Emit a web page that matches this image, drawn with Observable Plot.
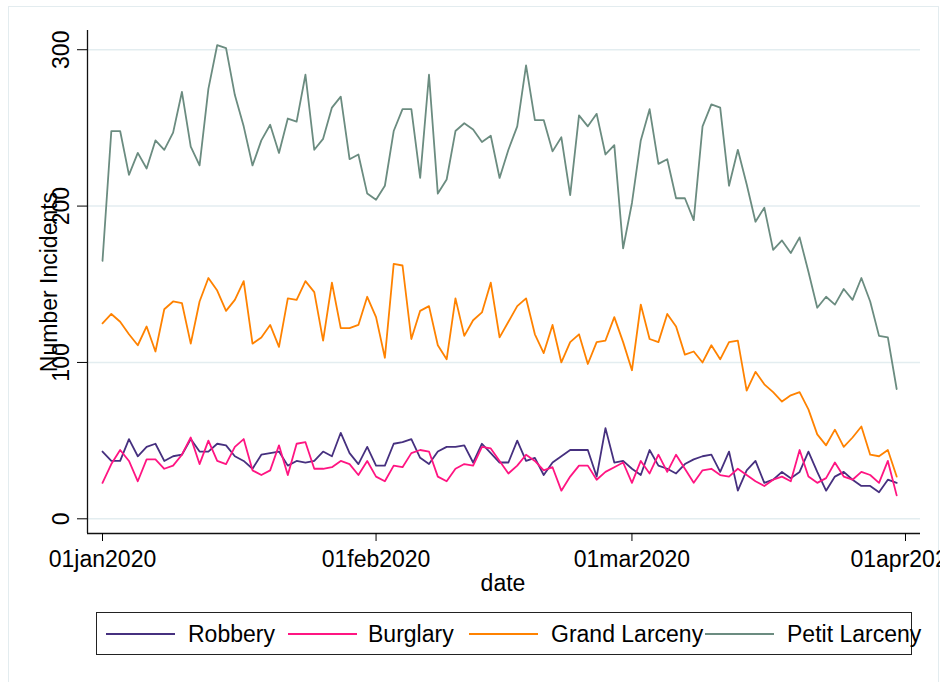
<!DOCTYPE html>
<html>
<head>
<meta charset="utf-8">
<script src="https://cdn.jsdelivr.net/npm/d3@7"></script>
<script src="https://cdn.jsdelivr.net/npm/@observablehq/plot@0.6"></script>
<style>
  html, body { margin: 0; padding: 0; background: #fff; }
  #wrap { position: relative; width: 949px; height: 682px; overflow: hidden; background: #fff;
          font-family: "Liberation Sans", Arial, Helvetica, sans-serif; color: #000; }
  #frame { position: absolute; left: 8px; top: 6px; width: 931px; height: 700px; border: 1px solid #e3ecef; box-sizing: border-box; }
  #chart { position: absolute; left: 0; top: 0; width: 940px; height: 600px; overflow: hidden; }
  .lbl { position: absolute; font-size: 23px; line-height: 26px; white-space: nowrap; }
  #legend { position: absolute; left: 96px; top: 612px; width: 816px; height: 43px; border: 1px solid #222; box-sizing: border-box; }
  .swatch { position: absolute; height: 2px; width: 69px; }
</style>
</head>
<body>
<div id="wrap">
  <div id="frame"></div>
  <div id="chart"></div>
  <div id="legend"></div>
  <div class="lbl" id="xtitle"></div>
  <div class="lbl" id="ytitle"></div>
</div>
<script>
// ---- data ----
const seriesNames = ["Robbery", "Burglary", "Grand Larceny", "Petit Larceny"];
const seriesColors = ["#46307f", "#ff1582", "#ff8200", "#6b8c80"];

const robbery = [43,37,37,51,40,46,48,37,40,41,51,43,43,48,47,40,37,32,41,42,43,34,37,36,37,43,40,55,42,35,
  46,34,34,48,49,51,39,35,43,46,46,47,36,48,42,36,36,50,37,39,28,36,40,44,44,44,27,58,36,37,
  32,28,44,34,32,29,35,38,40,41,30,43,18,31,37,23,25,30,26,30,43,30,18,27,30,25,21,21,17,25,23];
const burglary = [23,35,44,37,24,38,38,32,34,41,52,35,50,37,35,46,51,31,28,31,47,28,48,49,32,32,33,37,35,28,
  37,27,24,34,33,42,44,43,27,24,32,35,34,46,45,37,29,34,41,37,31,33,18,27,34,34,25,30,33,36,
  23,37,29,41,30,41,32,23,31,32,28,27,32,28,24,21,25,27,24,44,27,23,26,36,27,25,30,28,23,37,15];
const grandLarceny = [125,131,126,118,111,123,107,134,139,138,112,139,154,146,133,140,152,112,116,124,110,141,140,152,145,114,151,122,122,124,
  142,129,103,163,162,115,133,136,111,102,141,117,127,132,151,116,126,136,141,118,106,124,100,113,118,99,113,114,129,113,
  95,137,115,113,131,123,105,107,100,111,102,113,114,82,94,86,81,75,79,81,70,54,47,57,46,52,59,41,40,44,27];
const petitLarceny = [165,248,248,220,234,224,242,236,247,273,238,226,275,303,301,271,251,226,242,252,234,256,254,284,236,243,263,270,230,233,
  208,204,213,248,262,262,218,284,208,217,248,253,249,241,245,218,236,251,290,255,255,235,244,207,258,251,259,233,239,173,
  202,242,262,227,230,205,205,191,251,265,263,213,236,214,190,199,172,178,170,180,158,135,142,137,147,140,154,139,117,116,83];
const seriesValues = [robbery, burglary, grandLarceny, petitLarceny];

const dates = d3.utcDay.range(new Date(Date.UTC(2020, 0, 1)), new Date(Date.UTC(2020, 3, 1)));

const yTicks = [0, 100, 200, 300];
const xTickDates = [new Date(Date.UTC(2020,0,1)), new Date(Date.UTC(2020,1,1)), new Date(Date.UTC(2020,2,1)), new Date(Date.UTC(2020,3,1))];
const xTickLabels = ["01jan2020", "01feb2020", "01mar2020", "01apr2020"];
const xTitle = "date";
const yTitle = "Number Incidents";

// ---- build ----
const rows = [];
seriesNames.forEach((s, k) => seriesValues[k].forEach((v, i) => rows.push({series: s, date: dates[i], value: v})));
const labelByTime = new Map(xTickDates.map((d, i) => [+d, xTickLabels[i]]));

const day = 86400000;
const t0 = Date.UTC(2020, 0, 1);
const xDomain = [new Date(t0 - 1.7 * day), new Date(t0 + 92.7 * day)];
const yDomain = [-9.4, 312.3];

const plot = Plot.plot({
  width: 940,
  height: 600,
  marginLeft: 87,
  marginRight: 20,
  marginTop: 30,
  marginBottom: 67,
  style: {fontFamily: '"Liberation Sans", Arial, Helvetica, sans-serif', fontSize: "23px", background: "transparent", color: "#000", overflow: "hidden"},
  x: {type: "utc", domain: xDomain},
  y: {domain: yDomain},
  color: {domain: seriesNames, range: seriesColors},
  marks: [
    Plot.gridY(yTicks, {stroke: "#e3edf0", strokeOpacity: 1, strokeWidth: 1.5}),
    Plot.line(rows, {x: "date", y: "value", z: "series", stroke: "series", strokeWidth: 1.8}),
    Plot.ruleX([xDomain[0]], {stroke: "#111", strokeWidth: 1.3}),
    Plot.ruleY([yDomain[0]], {stroke: "#111", strokeWidth: 1.3}),
    Plot.axisY({ticks: yTicks, tickSize: 10, tickPadding: 9, tickRotate: -90, label: null, fontSize: 23}),
    Plot.axisX({ticks: xTickDates, tickSize: 8, tickPadding: 9, tickFormat: d => labelByTime.get(+d), label: null, fontSize: 23})
  ]
});
document.getElementById("chart").appendChild(plot);

// titles
const xt = document.getElementById("xtitle");
xt.textContent = xTitle;
xt.style.left = "503px"; xt.style.top = "570px"; xt.style.transform = "translateX(-50%)";
const yt = document.getElementById("ytitle");
yt.textContent = yTitle;
yt.style.left = "49px"; yt.style.top = "282px"; yt.style.transform = "translate(-50%,-50%) rotate(-90deg)";

// legend
const wrap = document.getElementById("wrap");
const swatchX = [106, 288, 469, 705];
const textX = [188, 368, 551, 787];
seriesNames.forEach((s, k) => {
  const sw = document.createElement("div");
  sw.className = "swatch";
  sw.style.left = swatchX[k] + "px";
  sw.style.top = "633px";
  sw.style.background = seriesColors[k];
  wrap.appendChild(sw);
  const t = document.createElement("div");
  t.className = "lbl";
  t.textContent = s;
  t.style.left = textX[k] + "px";
  t.style.top = "621px";
  wrap.appendChild(t);
});
</script>
</body>
</html>
